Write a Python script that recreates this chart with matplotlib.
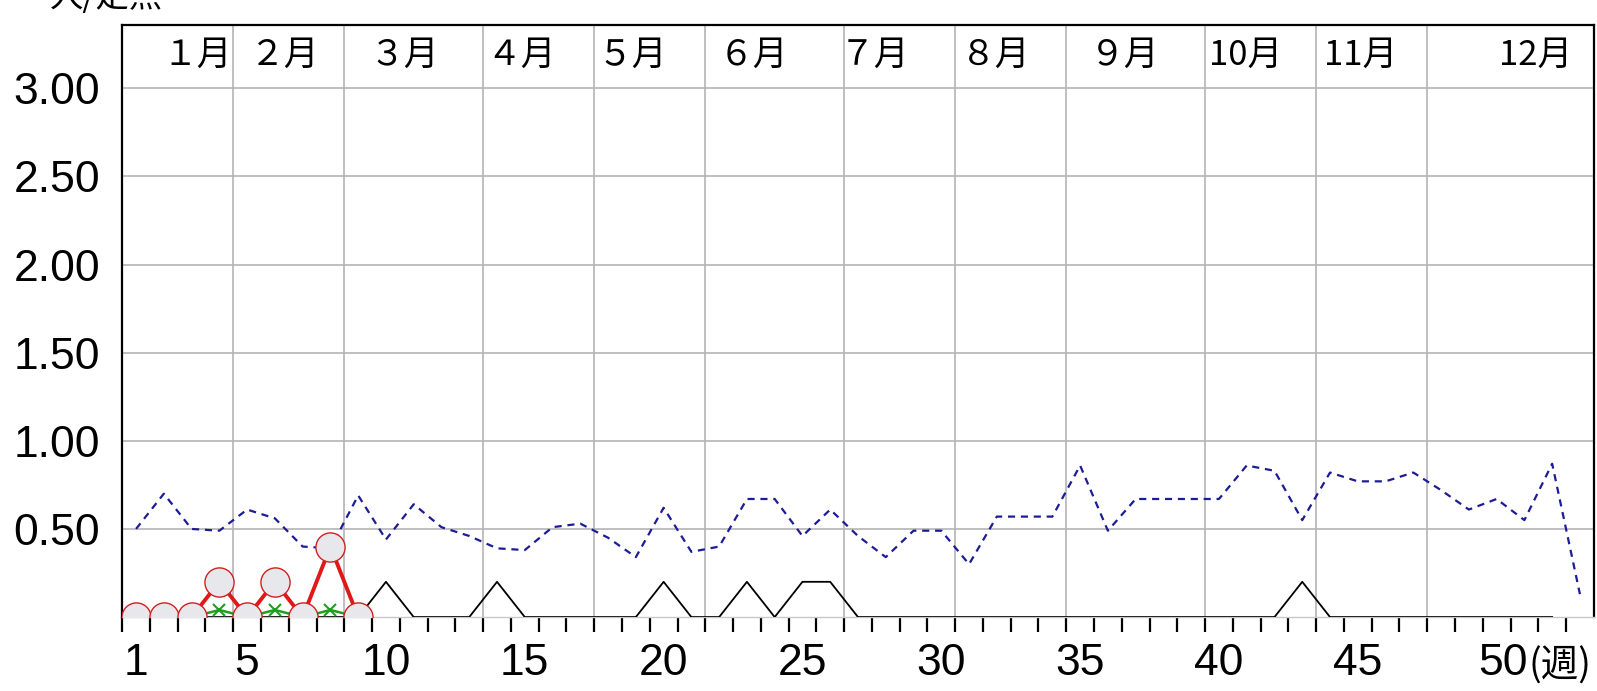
import numpy as np
import matplotlib
matplotlib.use("Agg")
import matplotlib.pyplot as plt
import matplotlib.transforms as mtransforms

plt.rcParams["font.family"] = ["Liberation Sans", "Noto Sans CJK JP", "DejaVu Sans"]

# weekly reports per sentinel site
weeks_this_year = np.arange(1, 10)
this_year = [0, 0, 0, 0.2, 0, 0.2, 0, 0.4, 0]
sub_series = [0, 0, 0, 0.04, 0, 0.04, 0, 0.04, 0]

weeks_last_year = np.arange(1, 53)
last_year = [0] * 52
for w in [10, 14, 20, 23, 25, 26, 43]:
    last_year[w - 1] = 0.2

weeks_avg = np.arange(1, 54)
five_year_avg = [0.50, 0.70, 0.50, 0.49, 0.61, 0.56, 0.40, 0.39, 0.69, 0.44,
                 0.64, 0.51, 0.46, 0.39, 0.38, 0.51, 0.53, 0.45, 0.34, 0.62,
                 0.37, 0.40, 0.67, 0.67, 0.46, 0.61, 0.46, 0.34, 0.49, 0.49,
                 0.30, 0.57, 0.57, 0.57, 0.86, 0.49, 0.67, 0.67, 0.67, 0.67,
                 0.86, 0.83, 0.55, 0.82, 0.77, 0.77, 0.82, 0.72, 0.61, 0.67,
                 0.55, 0.87, 0.13]

month_names = ["１月", "２月", "３月", "４月", "５月", "６月",
               "７月", "８月", "９月", "10月", "11月", "12月"]
month_label_x = [3.2, 6.35, 10.65, 14.85, 18.85, 23.25,
                 27.6, 31.95, 36.6, 40.95, 45.1, 51.4]
month_bounds = [4.5, 8.5, 13.5, 17.5, 21.5, 26.5, 30.5, 34.5, 39.5, 43.5, 47.5]

yticks = [0.5, 1.0, 1.5, 2.0, 2.5, 3.0]
xticks = [1, 5, 10, 15, 20, 25, 30, 35, 40, 45]

fig = plt.figure(figsize=(15.97, 6.91), dpi=100)
ax = fig.add_axes([0.0765, 0.107, 0.9215, 0.857])

ax.set_xlim(0.5, 53.5)
ax.set_ylim(0, 3.36)

# grid
for y in yticks:
    ax.axhline(y, color="#b4b4b4", lw=1.2, zorder=1)
for x in month_bounds:
    ax.axvline(x, color="#b4b4b4", lw=1.2, zorder=1)

ax.plot(weeks_last_year, last_year, color="black", lw=1.3, zorder=3)
ax.plot(weeks_avg, five_year_avg, color="#1c1c96", lw=1.6,
        dashes=(3.2, 2.6), zorder=3)
ax.plot(weeks_this_year, sub_series, color="#1e9e1e", lw=1.8, marker="x",
        markersize=8, markeredgewidth=1.5, zorder=4)
ax.plot(weeks_this_year, this_year, color="#e01818", lw=2.8, marker="o",
        markersize=21, markerfacecolor="#e8e8ec", markeredgecolor="#d02020",
        markeredgewidth=1.0, zorder=5)

# month labels along the top
trans = mtransforms.blended_transform_factory(ax.transData, ax.transAxes)
for name, x in zip(month_names, month_label_x):
    ax.text(x, 0.948, name, transform=trans, ha="center", va="center",
            fontsize=25, family=["Noto Sans CJK JP", "DejaVu Sans"])

ax.set_yticks(yticks)
ax.set_yticklabels([f"{v:.2f}" for v in yticks])
ax.tick_params(axis="y", length=0, pad=16, labelsize=32)

ax.set_xticks(xticks)
ax.set_xticks(np.arange(0.5, 53, 1), minor=True)
ax.tick_params(axis="x", which="major", length=0, pad=19, labelsize=32)
ax.tick_params(axis="x", which="minor", length=11, width=1.6,
               direction="out", color="black")

# last tick label carries the unit
t50 = ax.text(49.35, 0, "50",
              transform=mtransforms.offset_copy(ax.transData, fig=fig, y=-19,
                                                units="points"),
              ha="left", va="top", fontsize=32)
ax.annotate("(週)", xy=(1, 0.45), xycoords=t50, ha="left", va="center",
            fontsize=27, family=["Noto Sans CJK JP", "DejaVu Sans"])

for side in ["left", "right", "top"]:
    ax.spines[side].set_color("black")
    ax.spines[side].set_linewidth(1.6)
ax.spines["bottom"].set_color("#c8c8c8")
ax.spines["bottom"].set_linewidth(1.0)

fig.text(0.031, 1.004, "人/定点", ha="left", va="center", fontsize=24,
         family=["Noto Sans CJK JP", "DejaVu Sans"])

fig.savefig("out.png", dpi=100)
